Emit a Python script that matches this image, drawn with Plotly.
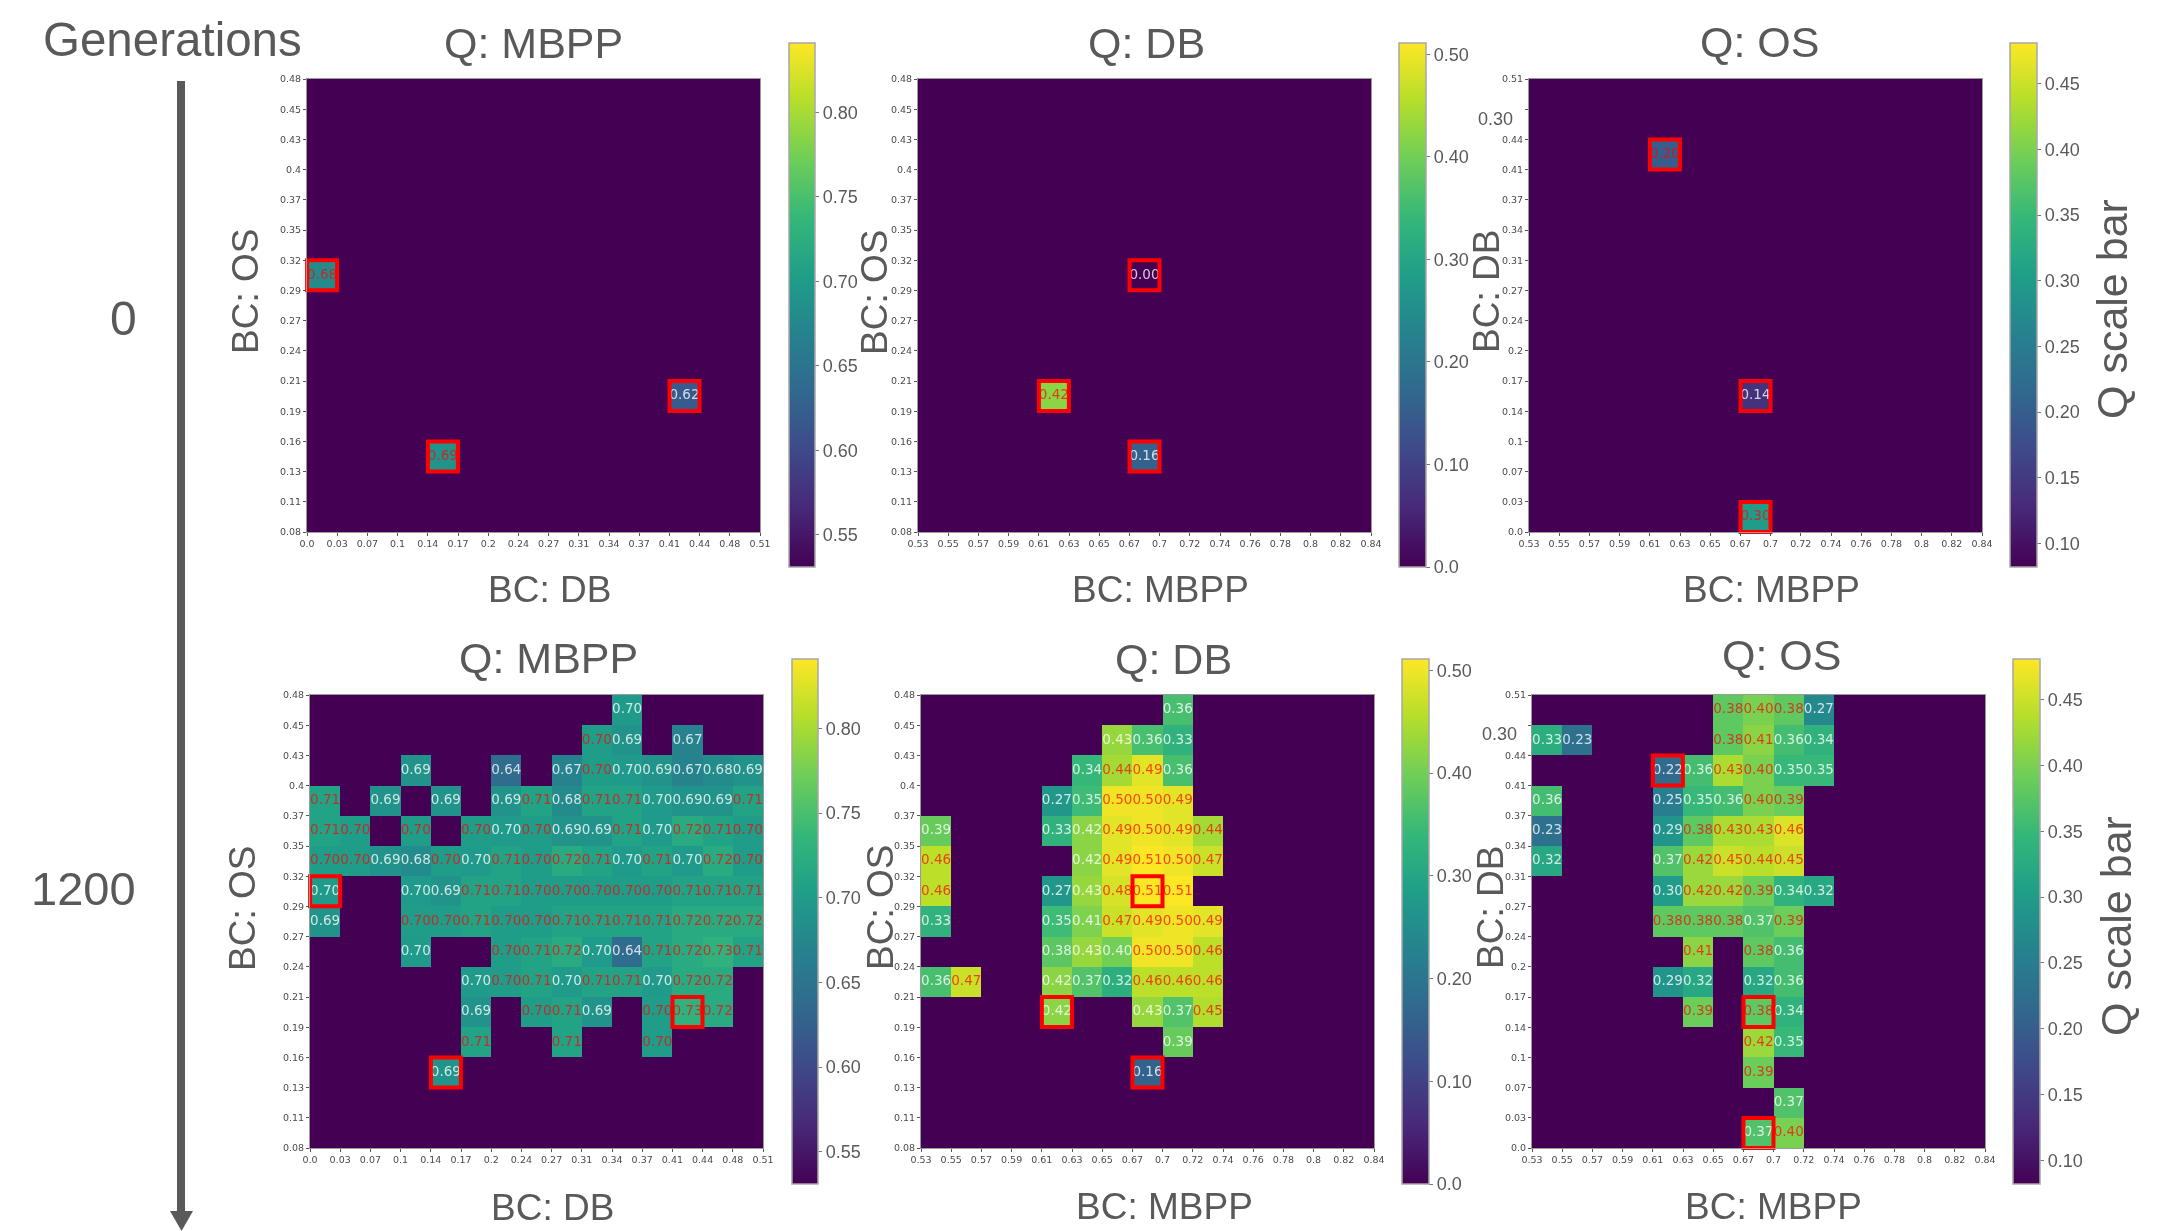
import plotly.graph_objects as go

W, H = 2163, 1231
N = None

DB_LABELS = ["0.0","0.03","0.07","0.1","0.14","0.17","0.2","0.24","0.27","0.31","0.34","0.37","0.41","0.44","0.48","0.51"]
DB_LABELS_COVERED = ["0.0","0.03","0.07","0.1","0.14","0.17","0.2","0.24","0.27","0.31","0.34","0.37","0.41","0.44","","0.51"]
MBPP_LABELS = ["0.53","0.55","0.57","0.59","0.61","0.63","0.65","0.67","0.7","0.72","0.74","0.76","0.78","0.8","0.82","0.84"]
OS_LABELS = ["0.08","0.11","0.13","0.16","0.19","0.21","0.24","0.27","0.29","0.32","0.35","0.37","0.4","0.43","0.45","0.48"]

# Rows run top to bottom, columns left to right. Empty archive cells are None.
# Values printed as 0.70 keep a third decimal: they fall on either side of the label-colour split.
GEN0_MBPP = [[N]*15 for _ in range(6)] + [
    [0.68,N,N,N,N,N,N,N,N,N,N,N,N,N,N],
    [N]*15, [N]*15, [N]*15,
    [N,N,N,N,N,N,N,N,N,N,N,N,0.62,N,N],
    [N]*15,
    [N,N,N,N,0.69,N,N,N,N,N,N,N,N,N,N],
    [N]*15, [N]*15,
]
GEN0_DB = [[N]*15 for _ in range(6)] + [
    [N,N,N,N,N,N,N,0.00,N,N,N,N,N,N,N],
    [N]*15, [N]*15, [N]*15,
    [N,N,N,N,0.42,N,N,N,N,N,N,N,N,N,N],
    [N]*15,
    [N,N,N,N,N,N,N,0.16,N,N,N,N,N,N,N],
    [N]*15, [N]*15,
]
GEN0_OS = [[N]*15, [N]*15,
    [N,N,N,N,0.20,N,N,N,N,N,N,N,N,N,N],
    [N]*15, [N]*15, [N]*15, [N]*15, [N]*15, [N]*15, [N]*15,
    [N,N,N,N,N,N,N,0.14,N,N,N,N,N,N,N],
    [N]*15, [N]*15, [N]*15,
    [N,N,N,N,N,N,N,0.30,N,N,N,N,N,N,N],
]
GEN1200_MBPP = [
    [N,N,N,N,N,N,N,N,N,N,0.698,N,N,N,N],
    [N,N,N,N,N,N,N,N,N,0.702,0.69,N,0.67,N,N],
    [N,N,N,0.69,N,N,0.64,N,0.67,0.702,0.698,0.69,0.67,0.68,0.69],
    [0.71,N,0.69,N,0.69,N,0.69,0.71,0.68,0.71,0.71,0.698,0.69,0.69,0.71],
    [0.71,0.702,N,0.702,N,0.702,0.698,0.702,0.69,0.69,0.71,0.698,0.72,0.71,0.702],
    [0.702,0.702,0.69,0.68,0.702,0.698,0.71,0.702,0.72,0.71,0.698,0.71,0.698,0.72,0.702],
    [0.698,N,N,0.698,0.69,0.71,0.71,0.702,0.702,0.702,0.702,0.702,0.71,0.71,0.71],
    [0.69,N,N,0.702,0.702,0.71,0.702,0.702,0.71,0.71,0.71,0.71,0.72,0.72,0.72],
    [N,N,N,0.698,N,N,0.702,0.71,0.72,0.698,0.64,0.71,0.72,0.73,0.71],
    [N,N,N,N,N,0.698,0.702,0.71,0.698,0.71,0.71,0.698,0.72,0.72,N],
    [N,N,N,N,N,0.69,N,0.702,0.71,0.69,N,0.702,0.73,0.72,N],
    [N,N,N,N,N,0.71,N,N,0.71,N,N,0.702,N,N,N],
    [N,N,N,N,0.69,N,N,N,N,N,N,N,N,N,N],
    [N]*15,
    [N]*15,
]
GEN1200_DB = [
    [N,N,N,N,N,N,N,N,0.36,N,N,N,N,N,N],
    [N,N,N,N,N,N,0.43,0.36,0.33,N,N,N,N,N,N],
    [N,N,N,N,N,0.34,0.44,0.49,0.36,N,N,N,N,N,N],
    [N,N,N,N,0.27,0.35,0.50,0.50,0.49,N,N,N,N,N,N],
    [0.39,N,N,N,0.33,0.42,0.49,0.50,0.49,0.44,N,N,N,N,N],
    [0.46,N,N,N,N,0.42,0.49,0.51,0.50,0.47,N,N,N,N,N],
    [0.46,N,N,N,0.27,0.43,0.48,0.51,0.51,N,N,N,N,N,N],
    [0.33,N,N,N,0.35,0.41,0.47,0.49,0.50,0.49,N,N,N,N,N],
    [N,N,N,N,0.38,0.43,0.40,0.50,0.50,0.46,N,N,N,N,N],
    [0.36,0.47,N,N,0.42,0.37,0.32,0.46,0.46,0.46,N,N,N,N,N],
    [N,N,N,N,0.42,N,N,0.43,0.37,0.45,N,N,N,N,N],
    [N,N,N,N,N,N,N,N,0.39,N,N,N,N,N,N],
    [N,N,N,N,N,N,N,0.16,N,N,N,N,N,N,N],
    [N]*15,
    [N]*15,
]
GEN1200_OS = [
    [N,N,N,N,N,N,0.38,0.40,0.38,0.27,N,N,N,N,N],
    [0.33,0.23,N,N,N,N,0.38,0.41,0.36,0.34,N,N,N,N,N],
    [N,N,N,N,0.22,0.36,0.43,0.40,0.35,0.35,N,N,N,N,N],
    [0.36,N,N,N,0.25,0.35,0.36,0.40,0.39,N,N,N,N,N,N],
    [0.23,N,N,N,0.29,0.38,0.43,0.43,0.46,N,N,N,N,N,N],
    [0.32,N,N,N,0.37,0.42,0.45,0.44,0.45,N,N,N,N,N,N],
    [N,N,N,N,0.30,0.42,0.42,0.39,0.34,0.32,N,N,N,N,N],
    [N,N,N,N,0.38,0.38,0.38,0.37,0.39,N,N,N,N,N,N],
    [N,N,N,N,N,0.41,N,0.38,0.36,N,N,N,N,N,N],
    [N,N,N,N,0.29,0.32,N,0.32,0.36,N,N,N,N,N,N],
    [N,N,N,N,N,0.39,N,0.38,0.34,N,N,N,N,N,N],
    [N,N,N,N,N,N,N,0.42,0.35,N,N,N,N,N,N],
    [N,N,N,N,N,N,N,0.39,N,N,N,N,N,N,N],
    [N,N,N,N,N,N,N,N,0.37,N,N,N,N,N,N],
    [N,N,N,N,N,N,N,0.37,0.40,N,N,N,N,N,N],
]

# Initial-population cells outlined in red (row, column)
BOXES_MBPP = [(6, 0), (10, 12), (12, 4)]
BOXES_DB = [(6, 7), (10, 4), (12, 7)]
BOXES_OS = [(2, 4), (10, 7), (14, 7)]

TICKS_MBPP = [0.55, 0.60, 0.65, 0.70, 0.75, 0.80]
TICKTEXT_MBPP = ["0.55", "0.60", "0.65", "0.70", "0.75", "0.80"]
TICKS_DB = [0.0, 0.1, 0.2, 0.3, 0.4, 0.5]
TICKTEXT_DB = ["0.0", "0.10", "0.20", "0.30", "0.40", "0.50"]
TICKS_OS = [0.10, 0.15, 0.20, 0.25, 0.30, 0.35, 0.40, 0.45]
TICKTEXT_OS = ["0.10", "0.15", "0.20", "0.25", "0.30", "0.35", "0.40", "0.45"]

RANGE_MBPP = (0.531, 0.841)
RANGE_DB = (0.0, 0.511)
RANGE_OS = (0.082, 0.481)

GREY = "#595959"
BG = "#440154"
SANS = "Liberation Sans"
MONO = "DejaVu Sans"
LIGHT_TXT = "rgba(255,255,255,0.78)"
RED_TXT = "rgba(255,0,0,0.7)"

PANELS = [
    dict(z=GEN0_MBPP, box=BOXES_MBPP, rng=RANGE_MBPP, split=0.66, xl=DB_LABELS, yl=OS_LABELS, t=TICKS_MBPP, tt=TICKTEXT_MBPP,
         px=(307, 760), py=(79, 532), cb=(789, 815), cby=(43, 567)),
    dict(z=GEN0_DB, box=BOXES_DB, rng=RANGE_DB, split=0.30, xl=MBPP_LABELS, yl=OS_LABELS, t=TICKS_DB, tt=TICKTEXT_DB,
         px=(918, 1371), py=(79, 532), cb=(1399, 1426), cby=(43, 567)),
    dict(z=GEN0_OS, box=BOXES_OS, rng=RANGE_OS, split=0.17, xl=MBPP_LABELS, yl=DB_LABELS_COVERED, t=TICKS_OS, tt=TICKTEXT_OS,
         px=(1529, 1982), py=(79, 532), cb=(2010, 2037), cby=(43, 567)),
    dict(z=GEN1200_MBPP, box=BOXES_MBPP, rng=RANGE_MBPP, split=0.70, xl=DB_LABELS, yl=OS_LABELS, t=TICKS_MBPP, tt=TICKTEXT_MBPP,
         px=(310, 763), py=(695, 1148), cb=(792, 818), cby=(659, 1184)),
    dict(z=GEN1200_DB, box=BOXES_DB, rng=RANGE_DB, split=0.435, xl=MBPP_LABELS, yl=OS_LABELS, t=TICKS_DB, tt=TICKTEXT_DB,
         px=(921, 1374), py=(695, 1148), cb=(1402, 1429), cby=(659, 1184)),
    dict(z=GEN1200_OS, box=BOXES_OS, rng=RANGE_OS, split=0.375, xl=MBPP_LABELS, yl=DB_LABELS_COVERED, t=TICKS_OS, tt=TICKTEXT_OS,
         px=(1532, 1985), py=(695, 1148), cb=(2013, 2040), cby=(659, 1184)),
]

# text, x, y, size, rotated
TEXTS = [
    ("Generations", 172, 40, 47.5, False), ("0", 123, 318, 48, False), ("1200", 83, 888, 47, False),
    ("Q: MBPP", 533, 43, 43, False), ("Q: DB", 1146, 43, 43, False), ("Q: OS", 1759, 42, 43, False),
    ("Q: MBPP", 548, 658, 43, False), ("Q: DB", 1173, 659, 43, False), ("Q: OS", 1781, 655, 43, False),
    ("BC: DB", 549, 589, 37, False), ("BC: MBPP", 1160, 589, 37, False), ("BC: MBPP", 1771, 589, 37, False),
    ("BC: DB", 552, 1207, 37, False), ("BC: MBPP", 1164, 1206, 37, False), ("BC: MBPP", 1773, 1206, 37, False),
    ("BC: OS", 245, 292, 37, True), ("BC: OS", 875, 293, 37, True), ("BC: DB", 1486, 292, 37, True),
    ("BC: OS", 242, 909, 37, True), ("BC: OS", 880, 908, 37, True), ("BC: DB", 1490, 908, 37, True),
    ("Q scale bar", 2112, 309, 43, True), ("Q scale bar", 2116, 926, 43, True),
    ("0.30", 1495, 119, 18, False), ("0.30", 1499, 734, 18, False),
]

fx = lambda p: p / W
fy = lambda p: 1 - p / H

fig = go.Figure()
layout = dict(
    width=W, height=H, margin=dict(l=0, r=0, t=0, b=0, pad=0, autoexpand=False),
    paper_bgcolor="white", plot_bgcolor=BG, showlegend=False, font=dict(family=SANS, color=GREY),
)

for i, p in enumerate(PANELS, start=1):
    suffix = "" if i == 1 else str(i)
    xa, ya = f"x{suffix}", f"y{suffix}"
    centres = [c + 0.5 for c in range(15)]
    ys = [14.5 - r for r in range(15)]
    fig.add_trace(go.Heatmap(
        z=p["z"], x=centres, y=ys, xaxis=xa, yaxis=ya, colorscale="Viridis",
        zmin=p["rng"][0], zmax=p["rng"][1], hoverongaps=False, hoverinfo="skip",
        colorbar=dict(
            x=fx(p["cb"][0]), xanchor="left", xpad=0, ypad=0,
            y=fy(sum(p["cby"]) / 2), yanchor="middle",
            len=(p["cby"][1] - p["cby"][0]) / H, lenmode="fraction",
            thickness=p["cb"][1] - p["cb"][0], thicknessmode="pixels",
            outlinecolor="#a8a8a8", outlinewidth=1.5,
            tickmode="array", tickvals=p["t"], ticktext=p["tt"],
            ticks="outside", ticklen=4, tickwidth=1, tickcolor="#777777",
            tickfont=dict(family=SANS, size=18, color=GREY),
        ),
    ))
    tx, ty, tt, tc = [], [], [], []
    for r, row in enumerate(p["z"]):
        for c, v in enumerate(row):
            if v is not None:
                tx.append(c + 0.5)
                ty.append(14.5 - r)
                tt.append(f"{v:.2f}")
                tc.append(RED_TXT if v > p["split"] else LIGHT_TXT)
    fig.add_trace(go.Scatter(
        x=tx, y=ty, text=tt, mode="text", xaxis=xa, yaxis=ya, hoverinfo="skip",
        textposition="middle center", cliponaxis=False,
        textfont=dict(family=MONO, size=13.5, color=tc),
    ))
    fig.add_trace(go.Scatter(
        x=[c + 0.5 for r, c in p["box"]], y=[14.5 - r for r, c in p["box"]],
        mode="markers", xaxis=xa, yaxis=ya, hoverinfo="skip", cliponaxis=False,
        marker=dict(symbol="square-open", size=30, color="#ff0000", line=dict(color="#ff0000", width=4)),
    ))
    axis = dict(
        range=[0, 15], fixedrange=True, showgrid=False, zeroline=False, showline=True, mirror=True,
        linecolor="#9a9a9a", linewidth=1, ticks="outside", ticklen=3, tickwidth=1, tickcolor="#555555",
        tickmode="array", tickvals=list(range(16)), tickangle=0,
        tickfont=dict(family=MONO, size=9.5, color="#4a4a4a"),
    )
    layout[f"xaxis{suffix}"] = dict(axis, domain=[fx(p["px"][0]), fx(p["px"][1])], ticktext=p["xl"],
                                    anchor=ya, side="bottom")
    layout[f"yaxis{suffix}"] = dict(axis, domain=[fy(p["py"][1]), fy(p["py"][0])], ticktext=p["yl"],
                                    anchor=xa, side="left")

layout["annotations"] = [
    dict(text=t, x=fx(x), y=fy(y), xref="paper", yref="paper", xanchor="center", yanchor="middle",
         showarrow=False, textangle=-90 if rot else 0, font=dict(family=SANS, size=s, color=GREY))
    for t, x, y, s, rot in TEXTS
]
layout["shapes"] = [
    dict(type="line", xref="paper", yref="paper", x0=fx(181), x1=fx(181), y0=fy(81), y1=fy(1212),
         line=dict(color=GREY, width=8)),
    dict(type="path", xref="paper", yref="paper", fillcolor=GREY, line=dict(width=0),
         path=f"M {fx(170)} {fy(1211)} L {fx(193)} {fy(1211)} L {fx(181.5)} {fy(1231)} Z"),
]
fig.update_layout(**layout)
fig.write_html(
    "out.html",
    config={"displayModeBar": False},
    post_script=("document.body.style.margin='0';document.body.style.overflow='hidden';"
                 "document.querySelector('.js-plotly-plot').style.filter='blur(0.6px)';"),
)
